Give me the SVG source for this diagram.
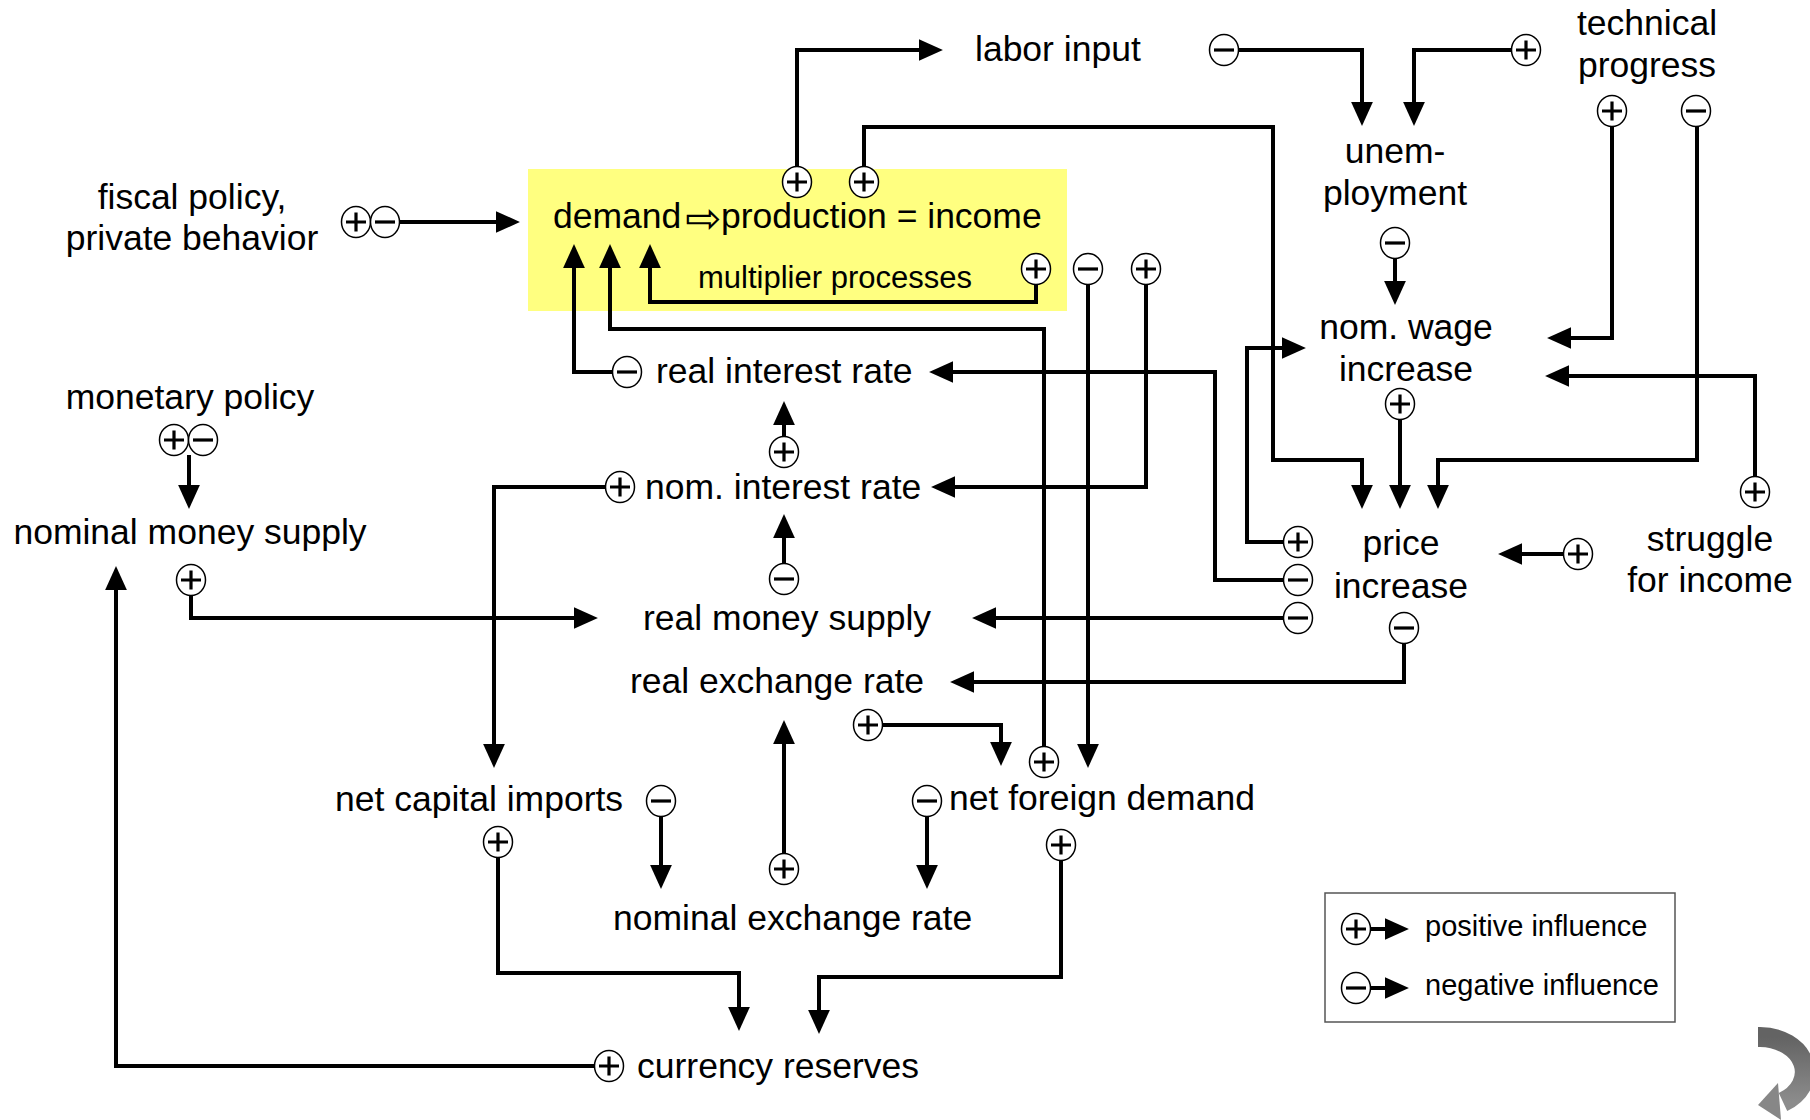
<svg xmlns="http://www.w3.org/2000/svg" xmlns:xlink="http://www.w3.org/1999/xlink" width="1810" height="1120" viewBox="0 0 1810 1120">
<style>
text{font-family:"Liberation Sans",Arial,sans-serif;fill:#000}
.t{font-size:35.5px}
.c{text-anchor:middle}
.sm{font-size:31px}
.lg{font-size:29px}
.ln{fill:none;stroke:#000;stroke-width:4;stroke-linejoin:miter;marker-end:url(#ah)}
.sg{fill:#fff;stroke:#000;stroke-width:1.5}
.sy{stroke:#000;stroke-width:3.2;fill:none}
</style>
<defs>
<marker id="ah" markerUnits="userSpaceOnUse" markerWidth="24" markerHeight="22" viewBox="0 0 22 20" refX="12" refY="10" orient="auto">
<path d="M0,0 L22,10 L0,20 z" fill="#000"/>
</marker>
<g id="p"><ellipse class="sg" rx="14.5" ry="15.5"/><path class="sy" d="M-10,0H10M0,-9.5V9.5"/></g>
<g id="m"><ellipse class="sg" rx="14.5" ry="15.5"/><path class="sy" d="M-10,0H10"/></g>
<linearGradient id="gr" x1="0" y1="0" x2="0" y2="1">
<stop offset="0" stop-color="#636363"/>
<stop offset="1" stop-color="#8c8c8c"/>
</linearGradient>
</defs>
<rect width="1810" height="1120" fill="#fff"/>

<g id="node-demand">
<rect x="528" y="169" width="539" height="142" fill="#ffff80"/>
<text class="t" y="228"><tspan x="553">demand</tspan><tspan x="685" y="233" style="font-family:'DejaVu Sans',sans-serif;font-size:43px">⇨</tspan><tspan x="721" y="228">production = income</tspan></text>
<text class="sm" x="698" y="288">multiplier processes</text>
</g>
<g id="node-labor"><text class="t" x="975" y="61">labor input</text></g>
<g id="node-tech"><text class="t c" x="1647" y="35">technical</text><text class="t c" x="1647" y="77">progress</text></g>
<g id="node-fiscal"><text class="t c" x="192" y="209">fiscal policy,</text><text class="t c" x="192" y="250">private behavior</text></g>
<g id="node-unemp"><text class="t c" x="1395" y="163">unem-</text><text class="t c" x="1395" y="205">ployment</text></g>
<g id="node-wage"><text class="t c" x="1406" y="339">nom. wage</text><text class="t c" x="1406" y="381">increase</text></g>
<g id="node-price"><text class="t c" x="1401" y="555">price</text><text class="t c" x="1401" y="598">increase</text></g>
<g id="node-struggle"><text class="t c" x="1710" y="551">struggle</text><text class="t c" x="1710" y="592">for income</text></g>
<g id="node-monetary"><text class="t c" x="190" y="409">monetary policy</text></g>
<g id="node-nommoney"><text class="t c" x="190" y="544">nominal money supply</text></g>
<g id="node-realint"><text class="t" x="656" y="383">real interest rate</text></g>
<g id="node-nomint"><text class="t" x="645" y="499">nom. interest rate</text></g>
<g id="node-realmoney"><text class="t" x="643" y="630">real money supply</text></g>
<g id="node-realexch"><text class="t" x="630" y="693">real exchange rate</text></g>
<g id="node-capimp"><text class="t" x="335" y="811">net capital imports</text></g>
<g id="node-foreign"><text class="t" x="949" y="810">net foreign demand</text></g>
<g id="node-nomexch"><text class="t" x="613" y="930">nominal exchange rate</text></g>
<g id="node-reserves"><text class="t" x="637" y="1078">currency reserves</text></g>

<g id="connectors">
<path class="ln" d="M398,222 H509"/>
<path class="ln" d="M797,167 V50 H932"/>
<path class="ln" d="M864,167 V127 H1273 V460 H1362 V498"/>
<path class="ln" d="M1036,284 V302 H650 V255"/>
<path class="ln" d="M612,372 H574 V255"/>
<path class="ln" d="M1044,747 V329 H610 V255"/>
<path class="ln" d="M1088,284 V757"/>
<path class="ln" d="M1146,284 V487 H942"/>
<path class="ln" d="M1284,580 H1215 V372 H940"/>
<path class="ln" d="M1284,542 H1247 V348 H1295"/>
<path class="ln" d="M1284,618 H983"/>
<path class="ln" d="M1404,643 V682 H961"/>
<path class="ln" d="M1400,419 V498"/>
<path class="ln" d="M1697,126 V460 H1438 V498"/>
<path class="ln" d="M1612,126 V338 H1558"/>
<path class="ln" d="M1755,477 V376 H1556"/>
<path class="ln" d="M1563,554 H1509"/>
<path class="ln" d="M1239,50 H1362 V115"/>
<path class="ln" d="M1511,50 H1414 V115"/>
<path class="ln" d="M1395,258 V294"/>
<path class="ln" d="M189,455 V498"/>
<path class="ln" d="M191,595 V618 H587"/>
<path class="ln" d="M605,487 H494 V757"/>
<path class="ln" d="M784,437 V412"/>
<path class="ln" d="M784,564 V525"/>
<path class="ln" d="M883,725 H1001 V755"/>
<path class="ln" d="M784,854 V731"/>
<path class="ln" d="M661,816 V878"/>
<path class="ln" d="M927,816 V878"/>
<path class="ln" d="M498,857 V973 H739 V1020"/>
<path class="ln" d="M1061,860 V977 H819 V1023"/>
<path class="ln" d="M594,1066 H116 V577"/>

<use href="#p" x="356" y="222"/><use href="#m" x="385" y="222"/>
<use href="#p" x="797" y="182"/>
<use href="#p" x="864" y="182"/>
<use href="#p" x="1036" y="269"/>
<use href="#m" x="1088" y="269"/>
<use href="#p" x="1146" y="269"/>
<use href="#m" x="627" y="372"/>
<use href="#p" x="1044" y="762"/>
<use href="#p" x="784" y="452"/>
<use href="#p" x="620" y="487"/>
<use href="#m" x="784" y="579"/>
<use href="#p" x="868" y="725"/>
<use href="#m" x="1224" y="50"/>
<use href="#p" x="1526" y="50"/>
<use href="#p" x="1612" y="111"/>
<use href="#m" x="1696" y="111"/>
<use href="#m" x="1395" y="243"/>
<use href="#p" x="1400" y="404"/>
<use href="#p" x="1298" y="542"/>
<use href="#m" x="1298" y="580"/>
<use href="#m" x="1298" y="618"/>
<use href="#m" x="1404" y="628"/>
<use href="#p" x="1755" y="492"/>
<use href="#p" x="1578" y="554"/>
<use href="#p" x="174" y="440"/><use href="#m" x="203" y="440"/>
<use href="#p" x="191" y="580"/>
<use href="#m" x="661" y="801"/>
<use href="#p" x="498" y="842"/>
<use href="#m" x="927" y="801"/>
<use href="#p" x="1061" y="845"/>
<use href="#p" x="784" y="869"/>
<use href="#p" x="609" y="1066"/>
</g>

<g id="legend">
<rect x="1325" y="893" width="350" height="129" fill="#fff" stroke="#555" stroke-width="1.5"/>
<path class="ln" d="M1371,929 H1398"/>
<path class="ln" d="M1371,988 H1398"/>
<use href="#p" x="1356" y="929"/>
<use href="#m" x="1356" y="988"/>
<text class="lg" x="1425" y="936">positive influence</text>
<text class="lg" x="1425" y="995">negative influence</text>
</g>

<g id="icon">
<path d="M1758,1037 L1760,1037 A45,35 0 0 1 1783,1102" fill="none" stroke="url(#gr)" stroke-width="20"/>
<polygon points="1758,1105 1778,1083 1781,1120" fill="#878787"/>
</g>
</svg>
